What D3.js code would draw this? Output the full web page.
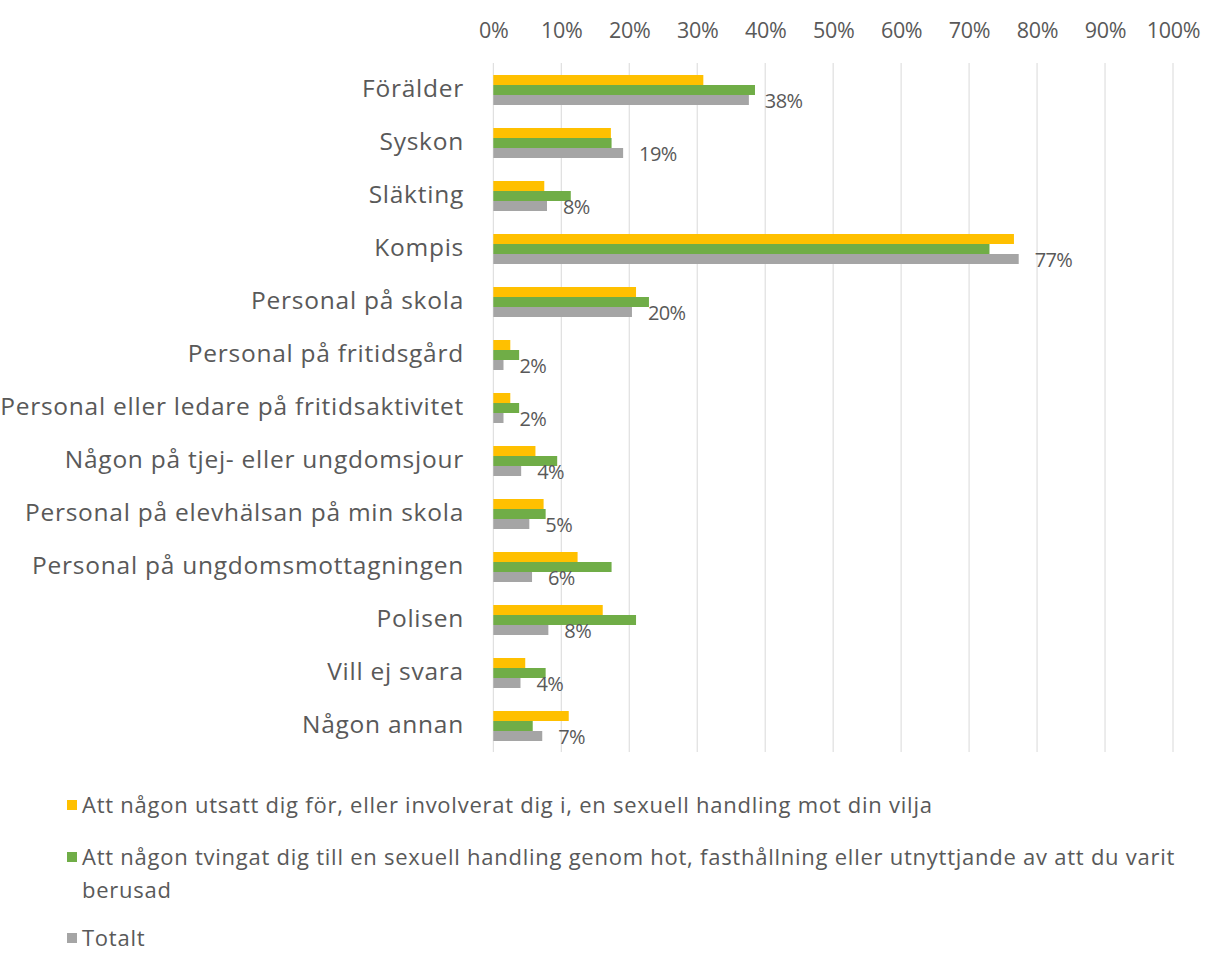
<!DOCTYPE html>
<html><head><meta charset="utf-8">
<script src="https://cdn.jsdelivr.net/npm/d3@7"></script>
<style>body{margin:0;background:#fff}svg{display:block}</style>
</head><body>
<svg id="c" width="1207" height="975"></svg>
<script>
const categories = ["Förälder","Syskon","Släkting","Kompis","Personal på skola","Personal på fritidsgård","Personal eller ledare på fritidsaktivitet","Någon på tjej- eller ungdomsjour","Personal på elevhälsan på min skola","Personal på ungdomsmottagningen","Polisen","Vill ej svara","Någon annan"];
const utsatt  = [30.9,17.3, 7.5,76.6,21.0,2.5,2.5,6.2,7.4,12.4,16.1,4.7,11.1];
const tvingat = [38.5,17.4,11.4,73.0,22.9,3.8,3.8,9.4,7.7,17.4,21.0,7.7, 5.8];
const totalt  = [37.6,19.1, 7.9,77.3,20.4,1.5,1.5,4.1,5.3, 5.7, 8.1,4.0, 7.2];
const tickValues = [0,10,20,30,40,50,60,70,80,90,100];
const seriesNames = ["Att någon utsatt dig för, eller involverat dig i, en sexuell handling mot din vilja","Att någon tvingat dig till en sexuell handling genom hot, fasthållning eller utnyttjande av att du varit berusad","Totalt"];
const seriesKeys = ["utsatt","tvingat","totalt"];
const colors = ["#FFC000","#70AD47","#A5A5A5"];

const rows = categories.map((c,i)=>({cat:c, utsatt:utsatt[i], tvingat:tvingat[i], totalt:totalt[i]}));
const svg = d3.select("#c");
const font = "'Open Sans', sans-serif";
const textColor = "#595959";

const x = d3.scaleLinear().domain([0,100]).range([493.3,1173]);
const y = d3.scaleBand().domain(categories).range([63.5,752.5]).paddingInner(0.434).paddingOuter(0.217);
const ys = d3.scaleBand().domain(seriesKeys).range([0,y.bandwidth()]);

// gridlines
svg.append("g").selectAll("line").data(tickValues).join("line")
  .attr("x1",d=>x(d)).attr("x2",d=>x(d)).attr("y1",63).attr("y2",752)
  .attr("stroke","#D9D9D9").attr("stroke-width",1);

// top axis labels
const ax = svg.append("g").attr("transform","translate(0,38)")
  .call(d3.axisTop(x).tickValues(tickValues).tickFormat(d=>d+"%").tickSize(0).tickPadding(0));
ax.select(".domain").remove();
ax.selectAll("text").attr("font-family",font).attr("font-size",21.5).attr("fill",textColor).attr("letter-spacing","-0.3px");

// bars
const groups = svg.append("g").selectAll("g").data(rows).join("g")
  .attr("transform",d=>`translate(0,${y(d.cat)})`);
groups.selectAll("rect").data(d=>seriesKeys.map((k,i)=>({k,i,v:d[k]}))).join("rect")
  .attr("x",x(0)).attr("y",d=>ys(d.k)).attr("width",d=>x(d.v)-x(0)).attr("height",ys.bandwidth())
  .attr("fill",d=>colors[d.i]);

// value labels (Totalt)
groups.append("text")
  .attr("x",d=>x(d.totalt)+16).attr("y",d=>ys("totalt")+ys.bandwidth()/2+3)
  .attr("dominant-baseline","middle")
  .attr("font-family",font).attr("font-size",20).attr("fill",textColor).attr("letter-spacing","-0.6px")
  .text(d=>Math.round(d.totalt)+"%");

// category labels
const ay = svg.append("g").attr("transform","translate(464,0)")
  .call(d3.axisLeft(y).tickSize(0).tickPadding(0));
ay.select(".domain").remove();
ay.selectAll("text").attr("font-family",font).attr("font-size",24.5).attr("fill",textColor).attr("letter-spacing","0.75px").attr("dy","0.3em");

// legend
const legend = [
  {i:0, y:805, lines:[seriesNames[0]]},
  {i:1, y:857, lines:["Att någon tvingat dig till en sexuell handling genom hot, fasthållning eller utnyttjande av att du varit","berusad"]},
  {i:2, y:938, lines:[seriesNames[2]]}
];
const lg = svg.append("g").selectAll("g").data(legend).join("g");
lg.append("rect").attr("x",67).attr("y",d=>d.y-5).attr("width",10).attr("height",10).attr("fill",d=>colors[d.i]);
lg.each(function(d){
  const t = d3.select(this).append("text").attr("font-family",font).attr("font-size",22).attr("fill",textColor).attr("letter-spacing","0.75px");
  d.lines.forEach((l,j)=>t.append("tspan").attr("x",82).attr("y",d.y+j*33).attr("dy","0.35em").text(l));
});
</script>
</body></html>
